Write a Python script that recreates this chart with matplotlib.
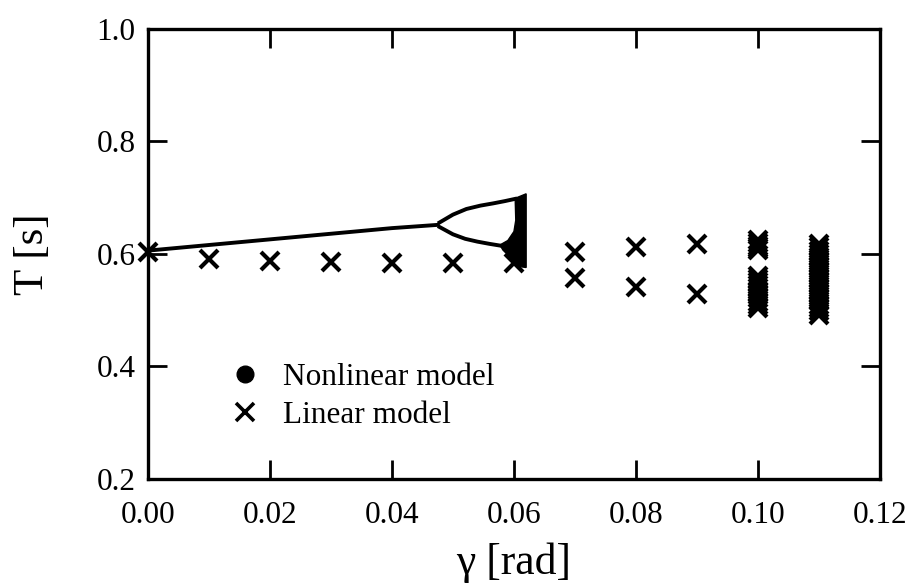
import matplotlib
matplotlib.use("Agg")
import matplotlib.pyplot as plt
from matplotlib.lines import Line2D
from matplotlib.patches import Polygon

plt.rcParams['font.family'] = ['Liberation Serif', 'DejaVu Serif']

# Nonlinear model: period-1 branch up to the first bifurcation
period1_gamma = [0.000, 0.010, 0.020, 0.030, 0.040, 0.0478]
period1_T = [0.606, 0.616, 0.626, 0.636, 0.646, 0.652]

# Period-2 branches
upper_gamma = [0.0478, 0.0500, 0.0522, 0.0545, 0.0566, 0.0585, 0.0602]
upper_T = [0.656, 0.670, 0.680, 0.686, 0.690, 0.694, 0.698]
lower_gamma = [0.0478, 0.0500, 0.0520, 0.0540, 0.0560, 0.0577]
lower_T = [0.648, 0.635, 0.627, 0.622, 0.618, 0.615]

# Outline of the chaotic band near the end of the nonlinear solutions
chaos_gamma = [0.0577, 0.0590, 0.0600, 0.0603, 0.0602, 0.0620, 0.0620, 0.0606, 0.0595, 0.0582]
chaos_T = [0.616, 0.624, 0.640, 0.660, 0.699, 0.707, 0.576, 0.578, 0.593, 0.607]

# Linear model
lin_gamma = [0.00, 0.01, 0.02, 0.03, 0.04, 0.05, 0.06,
             0.07, 0.07, 0.08, 0.08, 0.09, 0.09]
lin_T = [0.603, 0.591, 0.587, 0.585, 0.584, 0.584, 0.584,
         0.604, 0.557, 0.612, 0.541, 0.617, 0.528]
lin_g010 = [0.10] * 16
lin_T010 = [0.607, 0.611, 0.615, 0.620, 0.624,
            0.504, 0.509, 0.515, 0.521, 0.527, 0.533, 0.539, 0.545, 0.550, 0.556, 0.561]
lin_g011 = [0.11] * 22
lin_T011 = [0.492, 0.498, 0.504, 0.510, 0.516, 0.522, 0.528, 0.534, 0.540, 0.546, 0.552,
            0.558, 0.564, 0.570, 0.576, 0.582, 0.588, 0.594, 0.600, 0.606, 0.612, 0.617]

fig = plt.figure(figsize=(9.09, 5.87), dpi=100)
ax = fig.add_axes([0.1628, 0.184, 0.968 - 0.1628, 0.9506 - 0.184])

lw = 2.8
ax.plot(period1_gamma, period1_T, color='black', lw=lw, solid_capstyle='butt')
ax.plot(upper_gamma, upper_T, color='black', lw=lw)
ax.plot(lower_gamma, lower_T, color='black', lw=lw)
ax.add_patch(Polygon(list(zip(chaos_gamma, chaos_T)), closed=True,
                     facecolor='black', edgecolor='black', lw=1))

xkw = dict(ls='none', marker='x', color='black', ms=13, mew=3.0, clip_on=False, zorder=5)
ax.plot(lin_gamma, lin_T, **xkw)
ax.plot(lin_g010, lin_T010, **xkw)
ax.plot(lin_g011, lin_T011, **xkw)

ax.set_xlim(0.0, 0.12)
ax.set_ylim(0.2, 1.0)

xt = [0.00, 0.02, 0.04, 0.06, 0.08, 0.10, 0.12]
yt = [0.2, 0.4, 0.6, 0.8, 1.0]
ax.set_xticks(xt)
ax.set_xticklabels([f"{v:.2f}" for v in xt])
ax.set_yticks(yt)
ax.set_yticklabels([f"{v:.1f}" for v in yt])

for s in ax.spines.values():
    s.set_linewidth(2.4)
ax.tick_params(axis='both', direction='in', length=14, width=2.0,
               labelsize=22.5, top=True, right=True, pad=9)
ax.tick_params(axis='x', pad=16)

ax.set_xlabel('γ [rad]', fontsize=31.5, labelpad=9)
ax.set_ylabel('T [s]', fontsize=31, labelpad=32)

handles = [Line2D([], [], ls='none', marker='o', color='black', ms=12),
           Line2D([], [], ls='none', marker='x', color='black', ms=13, mew=2.6)]
ax.legend(handles, ['Nonlinear model', 'Linear model'], loc='upper left',
          bbox_to_anchor=(0.086, 0.293), frameon=False, fontsize=22.5,
          handletextpad=0.6, labelspacing=0.3, handlelength=1.2, borderpad=0)

fig.savefig('out.png', dpi=100)
